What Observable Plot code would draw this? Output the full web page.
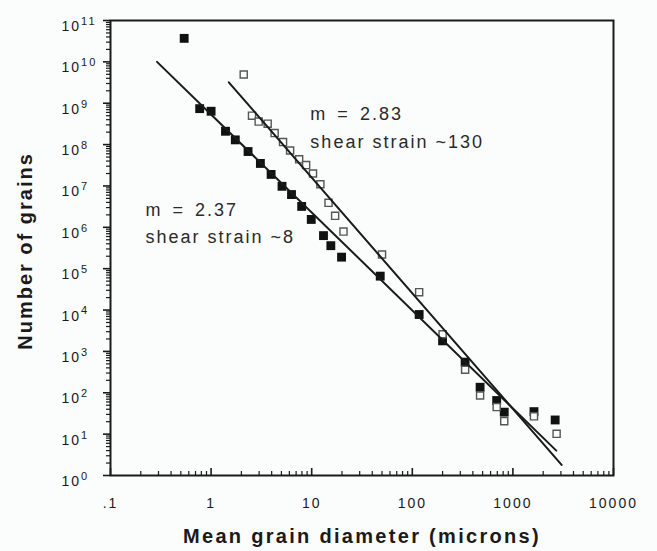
<!DOCTYPE html>
<html>
<head>
<meta charset="utf-8">
<script src="https://cdn.jsdelivr.net/npm/d3@7"></script>
<script src="https://cdn.jsdelivr.net/npm/@observablehq/plot@0.6"></script>
<style>
  html, body { margin: 0; padding: 0; background: #fbfcfc; }
  svg { letter-spacing: 2px; }
</style>
</head>
<body>
<div id="chart"></div>
<script>
// ---- data ----
const filledX = [0.54, 0.77, 1.0, 1.39, 1.74, 2.33, 3.09, 3.95, 5.07, 6.3, 7.95, 9.9, 13.1, 15.5, 19.8, 48, 117, 200, 335, 472, 690, 820, 1620, 2630];
const filledY = [3.7e10, 7.4e8, 6.4e8, 2.1e8, 1.3e8, 6.8e7, 3.5e7, 1.9e7, 9.8e6, 6.2e6, 3.2e6, 1.55e6, 6.3e5, 3.6e5, 1.9e5, 6.6e4, 7.8e3, 1.8e3, 550, 136, 65, 34, 35, 22];

const openX = [2.11, 2.55, 2.97, 3.65, 4.28, 5.19, 6.1, 7.5, 8.8, 10.3, 12.2, 14.7, 17.1, 20.7, 50, 117, 200, 335, 472, 690, 820, 1620, 2720];
const openY = [4.95e9, 5.0e8, 3.6e8, 3.2e8, 1.9e8, 1.15e8, 7.2e7, 4.4e7, 3.2e7, 2.0e7, 1.1e7, 3.9e6, 1.9e6, 7.9e5, 2.2e5, 2.7e4, 2.6e3, 360, 86, 45, 20.6, 27, 10.2];

// fitted lines (end points)
const fitAX = [0.29, 2700];
const fitAY = [1.0e10, 4.0];
const fitBX = [1.5, 3050];
const fitBY = [3.2e9, 1.8];

// annotations
const noteText = ["m = 2.83", "shear strain ~130", "m = 2.37", "shear strain ~8"];
const noteX = [9.7, 9.7, 0.223, 0.223];
const noteY = [5.35e8, 1.12e8, 2.55e6, 5.68e5];

// axes
const xTicks = [0.1, 1, 10, 100, 1000, 10000];
const xTickLabels = [".1", "1", "10", "100", "1000", "10000"];
const yExponents = [0, 1, 2, 3, 4, 5, 6, 7, 8, 9, 10, 11];
const xTitle = "Mean grain diameter (microns)";
const yTitle = "Number of grains";

// ---- build tables ----
const filled = filledX.map((x, i) => ({x, y: filledY[i]}));
const open = openX.map((x, i) => ({x, y: openY[i]}));
const fitA = fitAX.map((x, i) => ({x, y: fitAY[i]}));
const fitB = fitBX.map((x, i) => ({x, y: fitBY[i]}));
const notes = noteText.map((t, i) => ({t, x: noteX[i], y: noteY[i]}));

const yMajor = yExponents.map(e => Math.pow(10, e));
const yMinor = [];
for (let e = 0; e < 11; e++) for (let k = 2; k <= 9; k++) yMinor.push(k * Math.pow(10, e));
const xMinor = [];
for (let e = -1; e < 4; e++) for (let k = 2; k <= 9; k++) xMinor.push(k * Math.pow(10, e));

const ink = "#1a1a1a";

const chart = Plot.plot({
  width: 657,
  height: 551,
  marginLeft: 110,
  marginRight: 44,
  marginTop: 20,
  marginBottom: 76,
  x: {type: "log", domain: [0.1, 10000]},
  y: {type: "log", domain: [1, 1e11]},
  style: {background: "#fbfcfc", fontFamily: "'Liberation Sans', Arial, Helvetica, sans-serif", color: ink, overflow: "visible"},
  marks: [
    // y axis ticks (outward)
    Plot.axisY(yMajor, {tickSize: 7, strokeWidth: 1.6, tickFormat: () => "", label: null}),
    Plot.axisY(yMinor, {tickSize: 4, strokeWidth: 1.2, tickFormat: () => "", label: null}),
    // y tick labels (10 with superscript exponent, added below)
    Plot.text(yMajor, {
      y: d => d, text: d => String(Math.round(Math.log10(d))),
      frameAnchor: "left", dx: -49, dy: 6, textAnchor: "start", lineAnchor: "middle",
      fontSize: 14, fill: ink, className: "ylab"
    }),
    // x axis labels
    Plot.axisX(xTicks, {
      tickSize: 0, tickPadding: 23, fontSize: 14, label: null,
      tickFormat: d => xTickLabels[xTicks.indexOf(d)]
    }),
    // x ticks pointing inward
    Plot.tickX(xTicks, {x: d => d, insetTop: 448, stroke: ink, strokeWidth: 1.6}),
    Plot.tickX(xMinor, {x: d => d, insetTop: 451, stroke: ink, strokeWidth: 1.2}),
    Plot.frame({stroke: ink, strokeWidth: 2}),
    // data
    Plot.dot(filled, {x: "x", y: "y", symbol: "square", r: 5, fill: "#111", stroke: "none"}),
    Plot.dot(open, {x: "x", y: "y", symbol: "square", r: 4, fill: "#fbfcfc", stroke: "#555", strokeWidth: 1.4}),
    Plot.line(fitA, {x: "x", y: "y", stroke: ink, strokeWidth: 2}),
    Plot.line(fitB, {x: "x", y: "y", stroke: ink, strokeWidth: 2}),
    // annotations
    Plot.text(notes, {x: "x", y: "y", text: "t", textAnchor: "start", lineAnchor: "middle", fontSize: 18, fill: "#2a2a2a", className: "note"}),
    // titles
    Plot.text([xTitle], {text: d => d, frameAnchor: "bottom", dy: 61, textAnchor: "middle", lineAnchor: "middle", fontSize: 20, fontWeight: "bold", fill: ink, className: "xtitle"}),
    Plot.text([yTitle], {text: d => d, frameAnchor: "left", dx: -85, dy: 3, textAnchor: "middle", lineAnchor: "middle", rotate: -90, fontSize: 20, fontWeight: "bold", fill: ink})
  ]
});

// superscript exponents for y tick labels
const svgNS = "http://www.w3.org/2000/svg";
chart.querySelectorAll('g.ylab text').forEach(t => {
  const e = t.textContent;
  t.textContent = "10";
  const ts = document.createElementNS(svgNS, "tspan");
  ts.setAttribute("dy", "-0.55em");
  ts.setAttribute("font-size", "11");
  ts.textContent = e;
  t.appendChild(ts);
});
// wider spacing around "=" in the slope notes
chart.querySelectorAll('g.note text').forEach(t => {
  if (t.textContent.startsWith("m")) t.style.wordSpacing = "3px";
});
chart.querySelectorAll('g.xtitle text').forEach(t => { t.style.letterSpacing = "2.3px"; });

document.getElementById("chart").appendChild(chart);
</script>
</body>
</html>
